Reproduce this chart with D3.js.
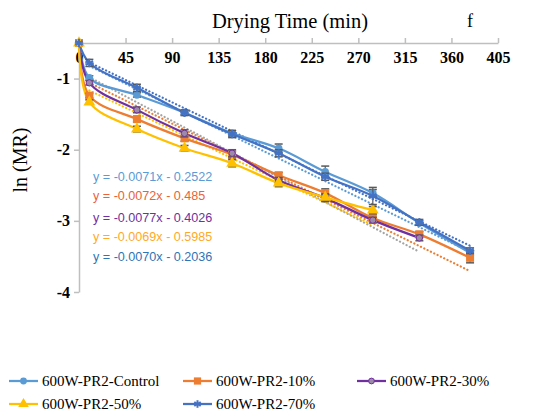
<!DOCTYPE html>
<html><head><meta charset="utf-8">
<script src="https://cdn.jsdelivr.net/npm/d3@7/dist/d3.min.js"></script>
<style>body{margin:0;background:#fff}svg{display:block}</style>
</head><body>
<svg id="chart" width="534" height="417"></svg>
<script>
// Drying curves, ln(MR) against drying time (min)
const times = [0, 10, 56, 102, 148, 193, 238, 284, 329, 378];
const seriesNames = ["600W-PR2-Control", "600W-PR2-10%", "600W-PR2-30%", "600W-PR2-50%", "600W-PR2-70%"];
const controlVals = [0, -0.49, -0.73, -0.98, -1.27, -1.48, -1.81, -2.11, -2.53, -2.95];
const pr10Vals    = [0, -0.74, -1.07, -1.34, -1.57, -1.86, -2.11, -2.46, -2.69, -3.02];
const pr30Vals    = [0, -0.56, -0.94, -1.27, -1.55, -1.93, -2.18, -2.49, -2.74];
const pr50Vals    = [0, -0.83, -1.21, -1.48, -1.69, -1.97, -2.17, -2.35];
const pr70Vals    = [0, -0.28, -0.63, -0.98, -1.28, -1.55, -1.88, -2.15, -2.52, -2.92];
const controlErr  = [0, 0.03, 0.03, 0.03, 0.04, 0.06, 0.08, 0.05, 0.03, 0.03];
const pr10Err     = [0, 0.03, 0.04, 0.04, 0.05, 0.04, 0.06, 0.05, 0.04, 0.07];
const pr30Err     = [0, 0.03, 0.04, 0.05, 0.05, 0.04, 0.05, 0.04, 0.04];
const pr50Err     = [0, 0.03, 0.04, 0.04, 0.05, 0.05, 0.05, 0.05];
const pr70Err     = [0, 0.05, 0.05, 0.04, 0.05, 0.05, 0.05, 0.12, 0.04, 0.04];
const trendSlopes     = [-0.0071, -0.0072, -0.0077, -0.0069, -0.0070];
const trendIntercepts = [-0.2522, -0.485, -0.4026, -0.5985, -0.2036];
const equationLabels  = ["y = -0.0071x - 0.2522", "y = -0.0072x - 0.485", "y = -0.0077x - 0.4026", "y = -0.0069x - 0.5985", "y = -0.0070x - 0.2036"];
const xTicks = [0, 45, 90, 135, 180, 225, 270, 315, 360, 405];
const yTicks = [-3.5, -2.5, -1.5, -0.5];

const lineColors  = ["#5B9BD5", "#ED7D31", "#7030A0", "#FFC000", "#4472C4"];
const trendColors = ["#5B9BD5", "#ED7D31", "#A5A5A5", "#FFC000", "#4472C4"];
const eqColors    = ["#5B9BD5", "#E8633A", "#7030A0", "#FFA928", "#2E75B6"];
const markerTypes = ["circle", "square", "dot", "triangle", "star"];

const valueSets = [controlVals, pr10Vals, pr30Vals, pr50Vals, pr70Vals];
const errorSets = [controlErr, pr10Err, pr30Err, pr50Err, pr70Err];
const series = seriesNames.map((name, i) => ({
  name, color: lineColors[i], marker: markerTypes[i],
  points: valueSets[i].map((v, j) => ({t: times[j], v, e: errorSets[i][j]}))
}));

const svg = d3.select("#chart");
const x = d3.scaleLinear().domain([0, 405]).range([79, 498]);
const y = d3.scaleLinear().domain([-3.5, 0]).range([292, 43]);

// axes
const xAxis = d3.axisTop(x).tickValues(xTicks).tickSize(5).tickSizeOuter(0);
const gx = svg.append("g").attr("transform", `translate(0,${y(0)})`).call(xAxis);
gx.select(".domain").attr("stroke", "#BFBFBF").attr("stroke-width", 1.5);
gx.selectAll(".tick line").attr("stroke", "#BFBFBF").attr("stroke-width", 1.5);
gx.selectAll(".tick text").attr("y", 20).attr("dy", "0")
  .attr("font-family", "Liberation Serif").attr("font-weight", "bold").attr("font-size", 16).attr("fill", "#000");

const yAxis = d3.axisLeft(y).tickValues(yTicks).tickSize(5).tickSizeOuter(0)
  .tickFormat(d => (d < 0 ? "-" : "") + Math.round(Math.abs(d)));
const gy = svg.append("g").attr("transform", `translate(${x(0)},0)`).call(yAxis);
gy.select(".domain").attr("stroke", "#BFBFBF").attr("stroke-width", 1.5);
gy.selectAll(".tick line").attr("stroke", "#BFBFBF").attr("stroke-width", 1.5);
gy.selectAll(".tick text").attr("x", -9)
  .attr("font-family", "Liberation Serif").attr("font-weight", "bold").attr("font-size", 16).attr("fill", "#000");

// titles
svg.append("text").attr("x", 290).attr("y", 28).attr("text-anchor", "middle")
  .attr("font-family", "Liberation Serif").attr("font-size", 20.5).text("Drying Time (min)");
svg.append("text").attr("x", 470).attr("y", 27).attr("text-anchor", "middle")
  .attr("font-family", "Liberation Serif").attr("font-size", 18).text("f");
svg.append("text").attr("transform", "translate(27,160) rotate(-90)").attr("text-anchor", "middle")
  .attr("font-family", "Liberation Serif").attr("font-size", 20).text("ln (MR)");

// trendlines (from the fitted equations)
series.forEach((s, i) => {
  const t0 = s.points[1].t, t1 = s.points[s.points.length - 1].t;
  svg.append("line")
    .attr("x1", x(t0)).attr("y1", y(trendSlopes[i] * t0 + trendIntercepts[i]))
    .attr("x2", x(t1)).attr("y2", y(trendSlopes[i] * t1 + trendIntercepts[i]))
    .attr("stroke", trendColors[i]).attr("stroke-width", 2.2)
    .attr("stroke-linecap", "round").attr("stroke-dasharray", "0.1,3.6");
});

// series lines
const line = d3.line().x(d => x(d.t)).y(d => y(d.v)).curve(d3.curveCatmullRom.alpha(0.5));
series.forEach(s => {
  svg.append("path").datum(s.points).attr("d", line)
    .attr("fill", "none").attr("stroke", s.color).attr("stroke-width", 2.25);
});

// markers
function drawMarker(g, type, color, cx, cy, scale = 1) {
  const k = scale;
  if (type === "circle") g.append("circle").attr("cx", cx).attr("cy", cy).attr("r", 3.8 * k).attr("fill", color);
  else if (type === "square") g.append("rect").attr("x", cx - 4 * k).attr("y", cy - 4 * k).attr("width", 8 * k).attr("height", 8 * k).attr("fill", color);
  else if (type === "dot") {
    g.append("circle").attr("cx", cx).attr("cy", cy).attr("r", 3.2 * k).attr("fill", "#9B8AA8").attr("stroke", "#7030A0").attr("stroke-width", 1);
  } else if (type === "triangle") {
    g.append("path").attr("d", d3.symbol(d3.symbolTriangle, 60 * k * k)()).attr("transform", `translate(${cx},${cy})`).attr("fill", color);
  } else if (type === "star") {
    const r = 4.2 * k;
    [0, 60, 120].forEach(a => {
      const rad = a * Math.PI / 180;
      g.append("line").attr("x1", cx - r * Math.sin(rad)).attr("y1", cy - r * Math.cos(rad))
        .attr("x2", cx + r * Math.sin(rad)).attr("y2", cy + r * Math.cos(rad))
        .attr("stroke", color).attr("stroke-width", 2);
    });
    g.append("line").attr("x1", cx - r).attr("y1", cy).attr("x2", cx + r).attr("y2", cy).attr("stroke", color).attr("stroke-width", 1.5);
  }
}
series.forEach(s => {
  const g = svg.append("g");
  s.points.forEach(p => {
    if (p.e > 0) {
      const x0 = x(p.t), ya = y(p.v + p.e), yb = y(p.v - p.e);
      g.append("line").attr("x1", x0).attr("x2", x0).attr("y1", ya).attr("y2", yb).attr("stroke", "#595959").attr("stroke-width", 1.2);
      [ya, yb].forEach(yy => g.append("line").attr("x1", x0 - 4).attr("x2", x0 + 4).attr("y1", yy).attr("y2", yy).attr("stroke", "#595959").attr("stroke-width", 1.5));
    }
    drawMarker(g, s.marker, s.color, x(p.t), y(p.v));
  });
});

// trendline equations
equationLabels.forEach((txt, i) => {
  svg.append("text").attr("x", 93).attr("y", [181, 200, 222, 241, 261][i])
    .attr("font-family", "Liberation Sans").attr("font-size", 12.6).attr("fill", eqColors[i]).text(txt);
});

// legend
const legendPos = [[9, 381], [183, 381], [357, 381], [9, 404], [183, 404]];
series.forEach((s, i) => {
  const [lx, ly] = legendPos[i];
  const g = svg.append("g");
  g.append("line").attr("x1", lx).attr("x2", lx + 29).attr("y1", ly).attr("y2", ly).attr("stroke", s.color).attr("stroke-width", 2.25);
  drawMarker(g, s.marker, s.color, lx + 14.5, ly, 0.9);
  g.append("text").attr("x", lx + 33).attr("y", ly + 5).attr("font-family", "Liberation Serif").attr("font-size", 15).text(s.name);
});
</script>
</body></html>
